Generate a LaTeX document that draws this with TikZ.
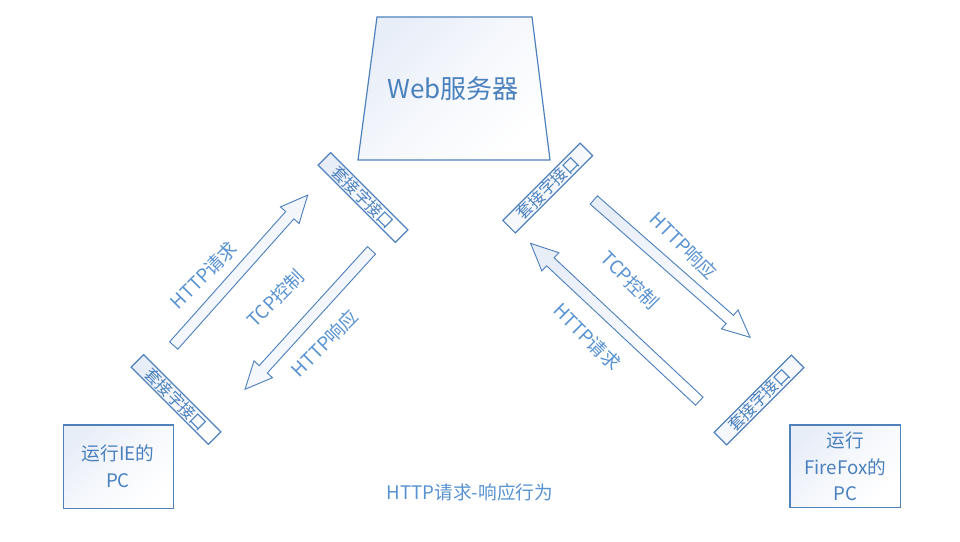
\documentclass[tikz,border=0pt]{standalone}
\usepackage{fontspec}
\setmainfont{Noto Sans CJK SC}
\usetikzlibrary{calc}
\definecolor{edge}{RGB}{79,129,189}
\definecolor{ink}{RGB}{74,128,190}
\definecolor{lab}{RGB}{88,146,208}
\definecolor{tint}{RGB}{232,238,248}
\tikzset{
  boxfill/.style={draw=edge, line width=0.9pt, top color=tint, bottom color=white, middle color=white!60!tint, shading angle=45},
  socket/.style={boxfill, minimum width=82pt, minimum height=13.2pt, inner sep=0pt,
     font=\fontsize{12}{12}\selectfont, text=ink},
  lbl/.style={font=\fontsize{14}{14}\selectfont, text=lab, inner sep=0pt},
  pctext/.style={font=\fontsize{14}{20}\selectfont, text=ink, align=center, inner sep=0pt},
  arrowsty/.style={draw=edge, line width=0.7pt, top color=tint, bottom color=white, shading angle=45, line join=miter}
}
\newcommand\blockarrow[3]{%
  \begin{scope}[shift={(#1)},rotate=#2]
    \draw[arrowsty] (0,-5.5)--({#3-27},-5.5)--({#3-27},-12.5)--(#3,0)--({#3-27},12.5)--({#3-27},5.5)--(0,5.5)--cycle;
  \end{scope}}
\begin{document}
\begin{tikzpicture}[x=0.75pt,y=-0.75pt]
\useasboundingbox (0,0) rectangle (960,542);
% web server
\coordinate (w1) at (377,17);
\coordinate (w2) at (532,17);
\coordinate (w3) at (550,160);
\coordinate (w4) at (358,160);
\draw[boxfill] (w1)--(w2)--(w3)--(w4)--cycle;
\node[font=\fontsize{19.5}{19.5}\selectfont, text=ink] (web) at (453,89) {Web服务器};
% sockets
\node[socket, rotate=-45] (s1) at (363,197.5) {套接字接口};
\node[socket, rotate=-45] (s2) at (176,399.5) {套接字接口};
\node[socket, rotate=45] (s3) at (547.7,188) {套接字接口};
\node[socket, rotate=45] (s4) at (759,400) {套接字接口};
% arrows
\coordinate (a1) at (173.7,345.5);
\coordinate (a2) at (371.5,250.3);
\coordinate (a3) at (593.8,200);
\coordinate (a4) at (699.3,401.2);
\blockarrow{a1}{48.3}{201.5}
\blockarrow{a2}{227.7}{187.9}
\blockarrow{a3}{-41.3}{208}
\blockarrow{a4}{136.9}{231}
% labels
\node[lbl, rotate=45] (l1) at (204,275) {HTTP请求};
\node[lbl, rotate=45] (l2) at (275.7,298.3) {TCP控制};
\node[lbl, rotate=45] (l3) at (325,343) {HTTP响应};
\node[lbl, rotate=-45] (r1) at (684,245.7) {HTTP响应};
\node[lbl, rotate=-45] (r2) at (630,280) {TCP控制};
\node[lbl, rotate=-45] (r3) at (587.3,336.7) {HTTP请求};
% PCs
\coordinate (p1a) at (63.3,425);
\coordinate (p1b) at (173.3,508.3);
\draw[boxfill] (p1a) rectangle (p1b);
\node[pctext] (pc1) at (118,466.5) {运行IE的\\PC};
\coordinate (p2a) at (790,425);
\coordinate (p2b) at (900.7,507.7);
\draw[boxfill] (p2a) rectangle (p2b);
\node[pctext] (pc2) at (845.3,466.5) {运行\\FireFox的\\PC};
% caption
\node[lbl] (cap) at (470,492) {HTTP请求-响应行为};
\end{tikzpicture}
\end{document}
